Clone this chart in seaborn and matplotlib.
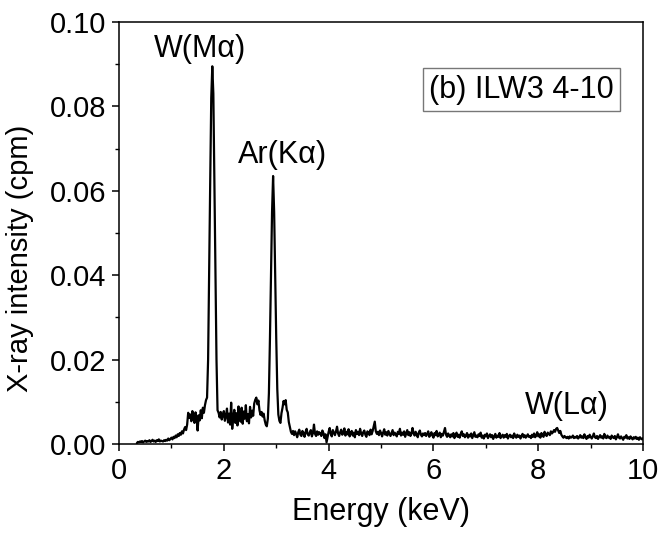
import numpy as np
import pandas as pd
import matplotlib
matplotlib.use("Agg")
import matplotlib.pyplot as plt
import seaborn as sns
from matplotlib.ticker import MultipleLocator, FormatStrFormatter

# Spectrum channels: 20 eV bins from 0.34 keV up to 10 keV
E_START, E_STEP = 0.34, 0.02

# Intensity per channel, in units of 1e-3 cpm (25 channels = 0.5 keV per row)
counts_mcpm = [
    # 0.34 - 0.82 keV
    0.2, 0.5, 0.4, 0.6, 0.5, 0.7, 0.4, 0.6, 0.8, 0.5, 0.7, 0.6, 0.9, 0.5, 0.7, 1.0, 0.6, 0.8, 0.5, 0.9, 0.7, 1.1, 0.6, 0.8, 0.7,
    # 0.84 - 1.32 keV
    0.6, 0.9, 0.7, 1.0, 0.8, 1.3, 0.9, 1.2, 1.5, 1.1, 1.7, 1.4, 2.0, 1.6, 2.3, 1.9, 2.6, 2.2, 3.0, 2.5, 3.4, 4.0, 3.3, 4.6, 7.4,
    # 1.34 - 1.82 keV (W M-alpha)
    6.2, 7.0, 5.4, 7.8, 6.0, 5.0, 7.5, 6.3, 3.2, 6.8, 5.6, 8.0, 6.1, 8.6, 7.4, 9.2, 10.4, 11.0, 20.0, 42.0, 62.0, 82.0, 89.5, 83.0, 62.0,
    # 1.84 - 2.32 keV
    40.0, 20.0, 8.0, 7.4, 6.3, 7.6, 5.8, 6.9, 7.8, 5.5, 6.6, 8.4, 5.1, 7.2, 4.6, 9.8, 3.6, 6.4, 8.1, 5.0, 7.3, 4.4, 8.9, 6.2, 5.3,
    # 2.34 - 2.82 keV
    8.6, 4.8, 7.7, 6.0, 9.2, 5.4, 7.1, 4.9, 8.8, 6.3, 7.9, 6.7, 9.6, 10.5, 11.0, 9.4, 10.3, 8.0, 6.9, 7.6, 6.5, 7.2, 5.6, 4.6, 4.2,
    # 2.84 - 3.32 keV (Ar K-alpha)
    6.0, 12.0, 25.0, 40.0, 55.0, 63.5, 55.0, 40.0, 25.0, 13.0, 7.0, 5.5, 5.0, 7.3, 8.6, 10.2, 9.4, 10.4, 8.1, 7.5, 5.2, 4.0, 2.9, 2.4, 3.1,
    # 3.34 - 3.82 keV
    2.1, 3.0, 2.4, 1.6, 2.8, 3.4, 2.2, 1.9, 3.1, 2.5, 1.7, 2.9, 3.6, 2.3, 2.0, 2.7, 3.3, 1.8, 2.6, 4.6, 2.4, 1.9, 3.0, 2.2, 2.8,
    # 3.84 - 4.32 keV
    2.5, 1.9, 3.2, 2.6, 1.4, 2.3, 0.4, 1.6, 2.9, 3.8, 2.4, 1.8, 3.3, 2.7, 2.1, 3.0, 4.1, 2.5, 1.9, 2.8, 3.4, 2.2, 2.6, 3.7, 2.0,
    # 4.34 - 4.82 keV
    2.9, 2.3, 3.5, 1.8, 2.6, 3.1, 2.0, 2.7, 1.6, 3.3, 2.4, 2.9, 2.1, 3.6, 2.5, 1.9, 2.8, 3.2, 2.2, 1.7, 3.0, 2.6, 2.1, 3.4, 2.3,
    # 4.84 - 5.32 keV
    3.1, 4.2, 5.3, 3.0, 2.4, 2.9, 2.1, 3.2, 2.6, 1.8, 2.7, 3.5, 2.2, 2.8, 2.0, 3.1, 2.5, 1.9, 2.6, 3.3, 2.1, 2.7, 2.3, 1.8, 2.9,
    # 5.34 - 5.82 keV
    2.4, 3.6, 2.0, 2.7, 2.2, 3.0, 1.7, 2.5, 3.3, 2.1, 2.8, 1.9, 2.4, 3.8, 2.6, 2.0, 2.9, 2.3, 1.6, 2.7, 3.2, 2.2, 1.8, 2.5, 2.1,
    # 5.84 - 6.32 keV
    2.6, 1.9, 2.4, 3.0, 1.7, 2.2, 2.8, 2.0, 1.5, 2.6, 2.1, 3.1, 1.8, 2.3, 2.7, 1.6, 2.4, 2.0, 2.9, 3.8, 2.2, 1.7, 2.5, 2.0, 1.6,
    # 6.34 - 6.82 keV
    2.3, 1.8, 2.6, 1.4, 2.1, 2.7, 1.7, 2.2, 1.5, 2.4, 3.0, 1.9, 2.3, 1.6, 2.0, 2.6, 1.5, 2.2, 1.8, 2.5, 1.4, 2.1, 2.8, 1.7, 2.0,
    # 6.84 - 7.32 keV
    1.6, 2.3, 1.9, 2.7, 1.5, 2.0, 1.3, 2.2, 1.8, 2.5, 1.4, 1.9, 2.3, 1.6, 2.1, 1.2, 1.8, 2.4, 1.5, 2.0, 1.7, 2.6, 1.4, 1.9, 2.2,
    # 7.34 - 7.82 keV
    1.5, 2.1, 1.7, 2.4, 1.3, 1.9, 2.2, 1.6, 2.0, 1.4, 2.5, 1.8, 1.5, 2.2, 1.7, 2.0, 1.3, 1.9, 2.4, 1.6, 2.1, 1.5, 1.8, 2.3, 1.7,
    # 7.84 - 8.32 keV
    1.9, 1.4, 2.2, 1.7, 2.5, 1.6, 2.0, 2.8, 1.8, 2.3, 1.5, 2.6, 2.0, 1.7, 2.9, 2.2, 1.9, 2.7, 2.4, 2.1, 3.0, 2.5, 2.8, 3.3, 2.9,
    # 8.34 - 8.82 keV (W L-alpha)
    3.6, 3.8, 3.2, 2.6, 3.1, 2.2, 1.8, 1.5, 1.9, 1.6, 1.4, 1.7, 1.3, 1.8, 1.5, 1.6, 2.0, 1.4, 1.7, 1.5, 1.9, 1.3, 1.6, 2.1, 1.5,
    # 8.84 - 9.32 keV
    1.8, 1.4, 2.3, 1.6, 1.2, 1.9, 1.5, 2.2, 1.7, 1.3, 1.8, 2.5, 1.6, 1.4, 1.9, 1.2, 1.7, 2.1, 1.5, 1.8, 1.3, 2.4, 1.6, 1.4, 2.0,
    # 9.34 - 9.82 keV
    1.5, 1.7, 1.2, 2.0, 1.6, 1.4, 1.9, 1.1, 1.6, 2.3, 1.5, 1.3, 1.8, 1.4, 1.0, 1.7, 1.5, 2.1, 1.3, 1.6, 1.2, 1.8, 1.4, 1.1, 1.6,
    # 9.84 - 10.00 keV
    1.3, 1.7, 1.2, 1.5, 1.0, 1.6, 1.3, 1.1, 1.4,
]

# Peak labels: (text, energy keV, intensity cpm)
peak_labels = ["W(M\u03b1)", "Ar(K\u03b1)", "W(L\u03b1)"]
peak_label_x = [1.55, 3.11, 8.55]
peak_label_y = [0.0935, 0.0685, 0.0090]
sample_label = "(b) ILW3 4-10"

energy = E_START + E_STEP * np.arange(len(counts_mcpm))
intensity = np.array(counts_mcpm) * 1e-3
df = pd.DataFrame({"Energy (keV)": energy, "X-ray intensity (cpm)": intensity})

sns.set_style("ticks")
plt.rcParams["font.family"] = ["Liberation Sans", "DejaVu Sans"]
for key in ["text.color", "axes.labelcolor", "xtick.color", "ytick.color",
            "axes.edgecolor"]:
    plt.rcParams[key] = "black"

fig = plt.figure(figsize=(6.63, 5.44), dpi=100)
ax = fig.add_axes([0.1795, 0.1838, 0.7905, 0.7758])

sns.lineplot(data=df, x="Energy (keV)", y="X-ray intensity (cpm)",
             color="black", linewidth=1.6, ax=ax, estimator=None, sort=False)

ax.set_xlim(0, 10)
ax.set_ylim(0, 0.10)
ax.xaxis.set_major_locator(MultipleLocator(2))
ax.xaxis.set_minor_locator(MultipleLocator(1))
ax.yaxis.set_major_locator(MultipleLocator(0.02))
ax.yaxis.set_minor_locator(MultipleLocator(0.01))
ax.yaxis.set_major_formatter(FormatStrFormatter("%.2f"))

for side in ["left", "right", "top", "bottom"]:
    ax.spines[side].set_visible(True)
    ax.spines[side].set_linewidth(1.1)
    ax.spines[side].set_color("black")

ax.tick_params(which="major", direction="out", length=5, width=1.1,
               labelsize=21, color="black", labelcolor="black", pad=4)
ax.tick_params(which="minor", direction="out", length=3, width=1.0, color="black")

ax.set_xlabel("Energy (keV)", fontsize=22, labelpad=9, color="black")
ax.set_ylabel("X-ray intensity (cpm)", fontsize=21, color="black")
ax.yaxis.set_label_coords(-0.163, 0.44)

for txt, x, y in zip(peak_labels, peak_label_x, peak_label_y):
    ax.text(x, y, txt, fontsize=22, ha="center", va="center", color="black")

ax.text(7.68, 0.0840, sample_label, fontsize=22, ha="center", va="center",
        color="black",
        bbox=dict(boxstyle="square,pad=0.2", facecolor="white",
                  edgecolor="#777777", linewidth=1.0))

fig.savefig("out.png", dpi=100)
